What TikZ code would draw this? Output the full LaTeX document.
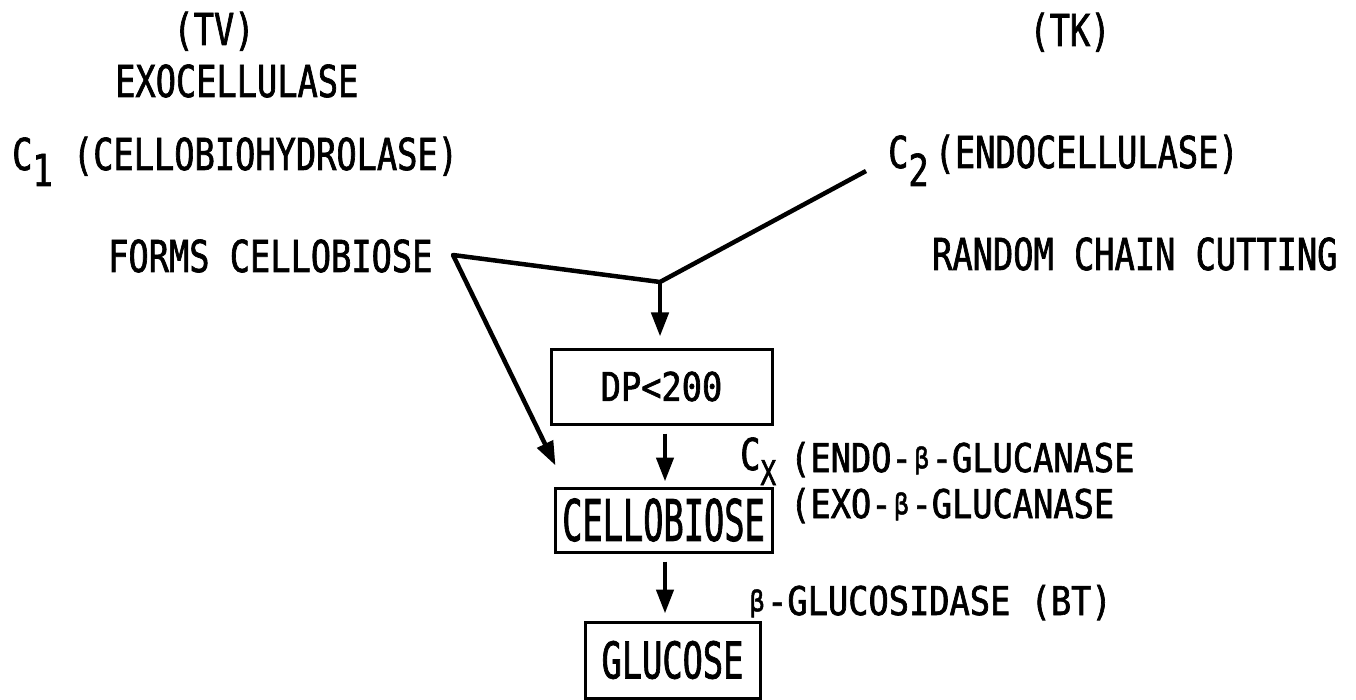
\documentclass[tikz,border=0pt]{standalone}
\usepackage{graphicx}
\usepackage{fontspec}
\setmainfont{DejaVu Sans Mono}[FakeStretch=0.765,FakeBold=1.5]
\usetikzlibrary{arrows.meta,calc}
\newcommand{\bet}{\makebox[20pt]{\raisebox{4pt}{\fontsize{32pt}{32pt}\selectfont β}}}
\tikzset{
 lbl/.style={inner sep=0pt, anchor=base west, font=\fontsize{44pt}{50pt}\selectfont},
 boxnode/.style={draw, line width=3pt, inner sep=0pt, font=\fontsize{44pt}{50pt}\selectfont},
 arr/.style={line width=4.5pt, line join=round, -{Triangle[length=24pt,width=17pt]}}
}
\begin{document}
\begin{tikzpicture}[x=1pt,y=1pt]
\useasboundingbox (0,0) rectangle (1356,-700);
% labels
\node[lbl, anchor=base] (tv) at (214,-45) {(TV)};
\node[lbl, anchor=base] (tk) at (1070,-46) {(TK)};
\node[lbl] (exo) at (115,-97) {EXOCELLULASE};
\node[lbl] (c1) at (12,-170) {C\raisebox{-16pt}{1} (CELLOBIOHYDROLASE)};
\node[lbl] (c2) at (888,-168) {C\raisebox{-18pt}{2}\hspace{6pt}(ENDOCELLULASE)};
\node[lbl] (forms) at (108,-272) {FORMS CELLOBIOSE};
\node[lbl] (random) at (932,-270) {RANDOM CHAIN CUTTING};
% boxes
\node[boxnode, minimum width=221pt, minimum height=75pt] (dp) at (661.5,-386.5) {\scalebox{1}[0.9]{DP<200}};
\node[boxnode, minimum width=217pt, minimum height=64pt] (cello) at (663.5,-520) {\scalebox{1}[1.3]{CELLOBIOSE}};
\node[boxnode, minimum width=175pt, minimum height=76pt] (gluc) at (672.5,-660) {\scalebox{1}[1.15]{GLUCOSE}};
% enzyme labels
\node[lbl] (cx) at (740,-470) {C\raisebox{-15pt}{\fontsize{34pt}{34pt}\selectfont X}};
\node[lbl] (endo) at (790,-472) {\scalebox{1}[0.9]{(ENDO-\bet-GLUCANASE}};
\node[lbl] (exob) at (790,-518) {\scalebox{1}[0.9]{(EXO-\bet-GLUCANASE}};
\node[lbl] (bglu) at (747,-615) {\scalebox{1}[0.9]{\bet-GLUCOSIDASE (BT)}};
% connectors
\coordinate (c2end) at (866,-171);
\coordinate (J) at (660,-282);
\coordinate (K) at (453,-255);
\draw[arr] (c2end) -- (J) -- (K) -- ($(cello.north west)+(2,21)$);
\draw[arr] (J) -- ($(dp.north -| J)+(0,11)$);
\draw[arr] ($(dp.south)+(3.5,-8)$) -- ($(dp.south |- cello.north)+(3.5,5)$);
\draw[arr] ($(cello.south)+(1.5,-8)$) -- ($(cello.south |- gluc.north)+(1.5,7)$);
\end{tikzpicture}
\end{document}
